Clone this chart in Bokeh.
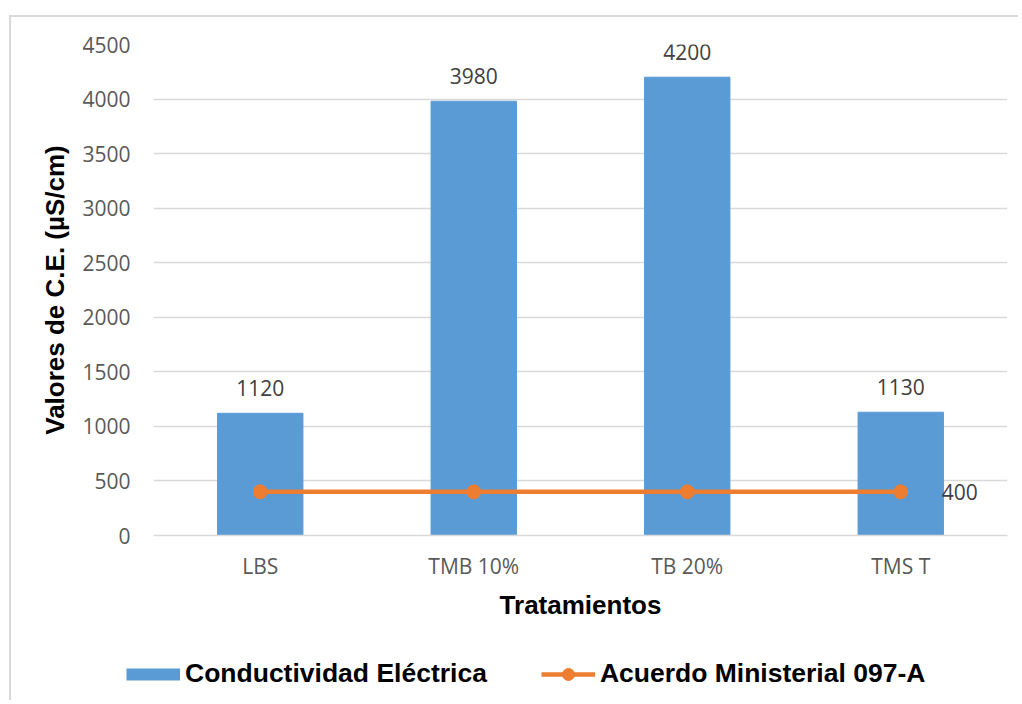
from bokeh.plotting import figure
from bokeh.models import (ColumnDataSource, LabelSet, Legend, LegendItem, Range1d,
                          FactorRange, FixedTicker)
from bokeh.core.properties import value
from bokeh.embed import file_html
from bokeh.resources import INLINE

categories = ["LBS", "TMB 10%", "TB 20%", "TMS T"]
conductividad = [1120, 3980, 4200, 1130]
acuerdo = [400, 400, 400, 400]
y_ticks = [0, 500, 1000, 1500, 2000, 2500, 3000, 3500, 4000, 4500]
series_names = ["Conductividad Eléctrica", "Acuerdo Ministerial 097-A"]

BLUE = "#5B9BD5"
ORANGE = "#ED7D31"
TICK_FONT = "Open Sans"
BOLD_FONT = "Liberation Sans"
BORDER = "2px solid #d9d9d9"

src = ColumnDataSource(dict(
    cat=categories,
    cond=conductividad,
    cond_lbl=[str(v) for v in conductividad],
    acu=acuerdo,
))
last_src = ColumnDataSource(dict(
    cat=categories[-1:],
    acu=acuerdo[-1:],
    lbl=[str(v) for v in acuerdo[-1:]],
))

OFF_X, OFF_Y = 11, 17   # offset of content inside the bordered box

p = figure(x_range=FactorRange(*categories), y_range=Range1d(0, 4500),
           width=1009, height=623, output_backend="svg", toolbar_location=None,
           min_border_left=153 - OFF_X, min_border_right=13, min_border_top=44 - OFF_Y,
           min_border_bottom=105)
p.outline_line_color = None
p.background_fill_color = "white"
p.border_fill_color = "white"
p.styles = {"margin-left": "9px", "margin-top": "15px",
            "border-left": BORDER, "border-top": BORDER}

bars = p.vbar(x="cat", top="cond", width=0.4, source=src,
              fill_color=BLUE, line_color=BLUE)
line_r = p.line(x="cat", y="acu", source=src, line_color=ORANGE, line_width=4.5)
pts_r = p.scatter(x="cat", y="acu", source=src, size=14,
                  fill_color=ORANGE, line_color=ORANGE)

labels = LabelSet(x="cat", y="cond", text="cond_lbl", source=src,
                  text_align="center", text_baseline="bottom", y_offset=17,
                  text_font=value(TICK_FONT), text_font_size="21px",
                  text_color="#404040")
p.add_layout(labels)
lab400 = LabelSet(x="cat", y="acu", text="lbl", source=last_src,
                  text_align="left", text_baseline="middle", x_offset=41,
                  text_font=value(TICK_FONT), text_font_size="21px",
                  text_color="#404040")
p.add_layout(lab400)

# axes
p.yaxis.ticker = FixedTicker(ticks=y_ticks)
p.yaxis.axis_line_color = None
p.yaxis.major_tick_line_color = None
p.yaxis.minor_tick_line_color = None
p.yaxis.major_tick_out = 0
p.yaxis.major_tick_in = 0
p.yaxis.major_label_standoff = 23
p.yaxis.major_label_text_font = TICK_FONT
p.yaxis.major_label_text_font_size = "21px"
p.yaxis.major_label_text_color = "#595959"
p.yaxis.axis_label = "Valores de C.E. (µS/cm)"
p.yaxis.axis_label_text_font = BOLD_FONT
p.yaxis.axis_label_text_font_style = "bold"
p.yaxis.axis_label_text_font_size = "26px"
p.yaxis.axis_label_text_color = "black"
p.yaxis.axis_label_standoff = 9

p.xaxis.axis_line_color = "#d9d9d9"
p.xaxis.axis_line_width = 1.5
p.xaxis.major_tick_line_color = None
p.xaxis.minor_tick_line_color = None
p.xaxis.major_tick_out = 0
p.xaxis.major_tick_in = 0
p.xaxis.major_label_standoff = 16
p.xaxis.major_label_text_font = TICK_FONT
p.xaxis.major_label_text_font_size = "21px"
p.xaxis.major_label_text_color = "#595959"
p.xaxis.axis_label = "Tratamientos"
p.xaxis.axis_label_text_font = BOLD_FONT
p.xaxis.axis_label_text_font_style = "bold"
p.xaxis.axis_label_text_font_size = "26px"
p.xaxis.axis_label_text_color = "black"
p.xaxis.axis_label_standoff = 7

p.xgrid.grid_line_color = None
p.ygrid.grid_line_color = "#d9d9d9"
p.ygrid.grid_line_width = 1.5

# legend strip: a second canvas so that the legend is not clipped by the frame.
# Its renderers use the same data but lie outside its (empty) y range.
lg = figure(width=1009, height=62, x_range=FactorRange(*categories),
            y_range=Range1d(-2, -1),
            output_backend="svg", toolbar_location=None,
            x_axis_type=None, y_axis_type=None,
            min_border_left=0, min_border_right=0, min_border_top=0, min_border_bottom=0)
lg.outline_line_color = None
lg.xgrid.grid_line_color = None
lg.ygrid.grid_line_color = None
lg.styles = {"margin-left": "9px", "border-left": BORDER}
leg_bar = lg.line(x="cat", y="cond", source=src, line_color=BLUE, line_width=12)
leg_line = lg.line(x="cat", y="acu", source=src, line_color=ORANGE, line_width=4.5)
leg_pts = lg.scatter(x="cat", y="acu", source=src, size=15,
                     fill_color=ORANGE, line_color=ORANGE)

legend = Legend(items=[
    LegendItem(label=series_names[0], renderers=[leg_bar]),
    LegendItem(label=series_names[1], renderers=[leg_line, leg_pts]),
], orientation="horizontal", location=(126 - OFF_X, 11),
    glyph_width=54, glyph_height=30, label_standoff=5, spacing=54,
    padding=0, margin=0, border_line_alpha=0, background_fill_alpha=0,
    label_text_font=BOLD_FONT, label_text_font_style="bold",
    label_text_font_size="26.5px", label_text_color="black")
lg.add_layout(legend)

open("out.html", "w").write(file_html([p, lg], INLINE))
